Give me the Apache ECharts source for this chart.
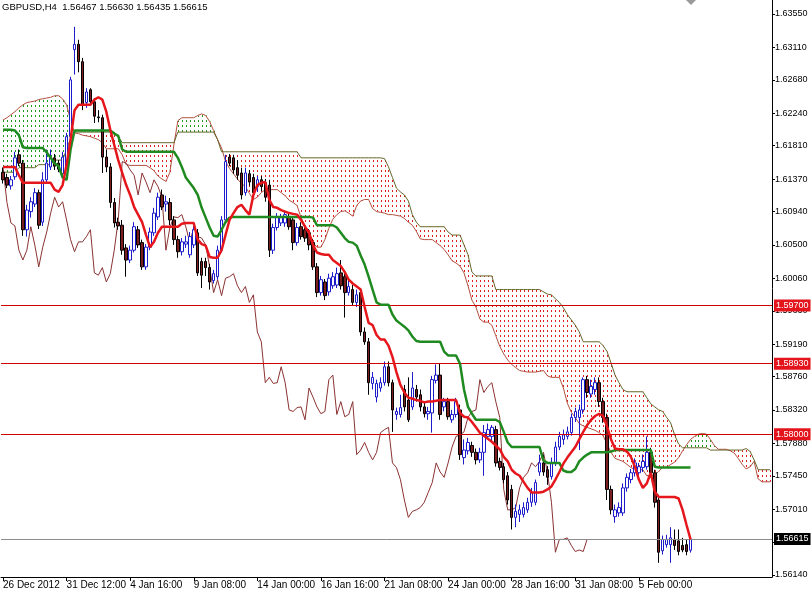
<!DOCTYPE html>
<html><head><meta charset="utf-8">
<script src="https://cdn.jsdelivr.net/npm/echarts@6/dist/echarts.min.js"></script>
<style>html,body{margin:0;padding:0;background:#fff}#c{width:812px;height:593px}</style>
</head><body><div id="c"></div>
<script>
const symbolName = 'GBPUSD,H4';
const dateLabels = ['26 Dec 2012','31 Dec 12:00','4 Jan 16:00','9 Jan 08:00','14 Jan 00:00','16 Jan 16:00','21 Jan 08:00','24 Jan 00:00','28 Jan 16:00','31 Jan 08:00','5 Feb 00:00'];
const priceTicks = [1.6355,1.6311,1.6268,1.6224,1.6181,1.6137,1.6094,1.6050,1.6006,1.5963,1.5919,1.5876,1.5832,1.5788,1.5745,1.5701,1.5657,1.5614];
const levels = [1.5970, 1.5893, 1.5800];
const bidPrice = 1.56615;
// [open, close, low, high]
const candles = [
[1.6146,1.6136,1.6131,1.6152],[1.6139,1.6129,1.6125,1.6144],[1.6128,1.6136,1.6123,1.6141],[1.6140,1.6165,1.6136,1.6173],[1.6169,1.6158,1.6154,1.6176],
[1.6158,1.6070,1.6062,1.6162],[1.6070,1.6096,1.6061,1.6103],[1.6094,1.6107,1.6086,1.6113],[1.6104,1.6119,1.6100,1.6125],[1.6119,1.6076,1.6071,1.6123],
[1.6080,1.6136,1.6075,1.6146],[1.6136,1.6158,1.6131,1.6176],[1.6153,1.6165,1.6149,1.6176],[1.6165,1.6154,1.6149,1.6170],[1.6158,1.6150,1.6146,1.6162],
[1.6144,1.6166,1.6139,1.6173],[1.6154,1.6193,1.6149,1.6198],[1.6193,1.6268,1.6189,1.6272],[1.6308,1.6315,1.6275,1.6338],[1.6315,1.6292,1.6278,1.6321],
[1.6292,1.6235,1.6228,1.6297],[1.6238,1.6252,1.6231,1.6257],[1.6255,1.6239,1.6234,1.6257],[1.6239,1.6220,1.6211,1.6244],[1.6219,1.6218,1.6212,1.6228],
[1.6218,1.6166,1.6145,1.6222],[1.6166,1.6153,1.6146,1.6176],[1.6153,1.6106,1.6099,1.6158],[1.6106,1.6079,1.6073,1.6112],[1.6080,1.6075,1.6070,1.6086],
[1.6076,1.6043,1.6037,1.6083],[1.6046,1.6030,1.6008,1.6051],[1.6030,1.6043,1.6026,1.6049],[1.6043,1.6074,1.6040,1.6080],[1.6070,1.6050,1.6046,1.6075],
[1.6053,1.6021,1.6017,1.6057],[1.6021,1.6047,1.6017,1.6051],[1.6047,1.6067,1.6043,1.6073],[1.6066,1.6092,1.6062,1.6099],[1.6087,1.6113,1.6083,1.6119],
[1.6116,1.6100,1.6096,1.6123],[1.6104,1.6107,1.6094,1.6115],[1.6106,1.6083,1.6076,1.6112],[1.6083,1.6057,1.6050,1.6088],[1.6057,1.6041,1.6033,1.6062],
[1.6041,1.6054,1.6036,1.6059],[1.6051,1.6054,1.6046,1.6062],[1.6037,1.6061,1.6033,1.6067],[1.6050,1.6070,1.6046,1.6075],[1.6066,1.6013,1.6009,1.6071],
[1.6028,1.6010,1.5993,1.6033],[1.6028,1.6020,1.6009,1.6033],[1.6020,1.6001,1.5991,1.6025],[1.6003,1.6012,1.5999,1.6017],[1.6008,1.6043,1.6004,1.6049],
[1.6043,1.6083,1.6040,1.6088],[1.6083,1.6160,1.6079,1.6169],[1.6166,1.6158,1.6154,1.6170],[1.6165,1.6149,1.6144,1.6169],[1.6152,1.6142,1.6136,1.6162],
[1.6145,1.6116,1.6110,1.6152],[1.6119,1.6145,1.6115,1.6152],[1.6144,1.6133,1.6128,1.6149],[1.6139,1.6119,1.6112,1.6144],[1.6127,1.6136,1.6120,1.6141],
[1.6136,1.6127,1.6121,1.6141],[1.6132,1.6113,1.6107,1.6137],[1.6129,1.6043,1.6034,1.6136],[1.6043,1.6073,1.6038,1.6078],[1.6073,1.6087,1.6069,1.6092],
[1.6079,1.6086,1.6075,1.6091],[1.6079,1.6090,1.6074,1.6094],[1.6087,1.6074,1.6070,1.6092],[1.6083,1.6053,1.6043,1.6088],[1.6053,1.6073,1.6049,1.6079],
[1.6074,1.6061,1.6057,1.6080],[1.6070,1.6059,1.6054,1.6075],[1.6066,1.6050,1.6043,1.6071],[1.6053,1.6021,1.6017,1.6058],[1.6021,1.5987,1.5981,1.6026],
[1.5987,1.6004,1.5983,1.6009],[1.6001,1.5983,1.5977,1.6005],[1.5988,1.6006,1.5983,1.6012],[1.5996,1.6008,1.5992,1.6014],[1.5997,1.6012,1.5993,1.6020],
[1.6013,1.5996,1.5991,1.6030],[1.6008,1.5987,1.5954,1.6012],[1.5987,1.5995,1.5983,1.6006],[1.5991,1.5974,1.5970,1.5997],[1.5974,1.5984,1.5968,1.5991],
[1.5987,1.5935,1.5930,1.5993],[1.5935,1.5922,1.5918,1.5941],[1.5922,1.5868,1.5852,1.5927],[1.5867,1.5875,1.5859,1.5882],[1.5849,1.5867,1.5842,1.5872],
[1.5861,1.5868,1.5856,1.5875],[1.5868,1.5889,1.5864,1.5896],[1.5889,1.5868,1.5863,1.5896],[1.5868,1.5832,1.5803,1.5872],[1.5826,1.5830,1.5819,1.5835],
[1.5826,1.5835,1.5822,1.5852],[1.5859,1.5836,1.5830,1.5865],[1.5845,1.5819,1.5816,1.5875],[1.5836,1.5861,1.5832,1.5882],[1.5859,1.5849,1.5843,1.5865],
[1.5852,1.5836,1.5830,1.5859],[1.5836,1.5827,1.5822,1.5842],[1.5827,1.5830,1.5819,1.5836],[1.5828,1.5872,1.5802,1.5877],[1.5871,1.5878,1.5867,1.5892],
[1.5878,1.5826,1.5819,1.5893],[1.5836,1.5843,1.5830,1.5848],[1.5843,1.5823,1.5819,1.5848],[1.5819,1.5826,1.5815,1.5832],[1.5826,1.5843,1.5822,1.5848],
[1.5832,1.5773,1.5766,1.5839],[1.5769,1.5779,1.5760,1.5793],[1.5778,1.5789,1.5773,1.5795],[1.5785,1.5776,1.5770,1.5790],[1.5776,1.5766,1.5760,1.5781],
[1.5766,1.5776,1.5762,1.5782],[1.5776,1.5802,1.5745,1.5812],[1.5797,1.5806,1.5793,1.5814],[1.5797,1.5809,1.5790,1.5812],[1.5806,1.5762,1.5757,1.5811],
[1.5764,1.5756,1.5752,1.5769],[1.5757,1.5740,1.5735,1.5762],[1.5745,1.5713,1.5707,1.5750],[1.5727,1.5690,1.5674,1.5733],[1.5690,1.5698,1.5677,1.5707],
[1.5694,1.5700,1.5684,1.5707],[1.5694,1.5703,1.5690,1.5710],[1.5700,1.5710,1.5696,1.5716],[1.5710,1.5723,1.5704,1.5729],[1.5710,1.5736,1.5706,1.5740],
[1.5750,1.5762,1.5745,1.5773],[1.5762,1.5750,1.5745,1.5773],[1.5753,1.5743,1.5733,1.5758],[1.5744,1.5762,1.5740,1.5769],[1.5762,1.5783,1.5758,1.5790],
[1.5783,1.5797,1.5779,1.5803],[1.5793,1.5799,1.5786,1.5806],[1.5797,1.5803,1.5793,1.5810],[1.5802,1.5822,1.5798,1.5827],[1.5822,1.5830,1.5816,1.5835],
[1.5822,1.5832,1.5779,1.5839],[1.5832,1.5872,1.5827,1.5875],[1.5872,1.5855,1.5848,1.5877],[1.5853,1.5863,1.5848,1.5872],[1.5859,1.5868,1.5852,1.5875],
[1.5868,1.5843,1.5836,1.5875],[1.5843,1.5822,1.5815,1.5848],[1.5822,1.5727,1.5713,1.5827],[1.5727,1.5700,1.5694,1.5732],[1.5691,1.5700,1.5683,1.5707],
[1.5696,1.5703,1.5691,1.5710],[1.5696,1.5729,1.5692,1.5735],[1.5729,1.5743,1.5724,1.5748],[1.5740,1.5749,1.5735,1.5754],[1.5749,1.5762,1.5744,1.5768],
[1.5749,1.5757,1.5744,1.5762],[1.5756,1.5764,1.5750,1.5773],[1.5757,1.5776,1.5753,1.5797],[1.5776,1.5749,1.5743,1.5782],[1.5749,1.5710,1.5703,1.5753],
[1.5713,1.5644,1.5630,1.5720],[1.5646,1.5661,1.5641,1.5666],[1.5654,1.5661,1.5650,1.5667],[1.5654,1.5663,1.5630,1.5677],[1.5661,1.5653,1.5647,1.5674],
[1.5659,1.5645,1.5640,1.5674],[1.5653,1.5647,1.5644,1.5663],[1.5654,1.5645,1.5640,1.5661],[1.56467,1.56615,1.56435,1.56630]
];
const tenkan = [
1.6153,1.6153,1.6153,1.6153,1.6142,1.6132,1.6132,1.6132,1.6132,1.6132,
1.6132,1.6132,1.6132,1.6123,1.6120,1.6129,1.6156,1.6189,1.6228,1.6235,
1.6235,1.6235,1.6235,1.6242,1.6245,1.6242,1.6226,1.6202,1.6182,1.6162,
1.6145,1.6129,1.6116,1.6100,1.6090,1.6080,1.6063,1.6047,1.6054,1.6066,
1.6074,1.6074,1.6074,1.6074,1.6074,1.6078,1.6079,1.6079,1.6079,1.6057,
1.6051,1.6049,1.6034,1.6033,1.6033,1.6043,1.6063,1.6083,1.6092,1.6100,
1.6103,1.6096,1.6090,1.6116,1.6129,1.6132,1.6133,1.6110,1.6100,1.6099,
1.6096,1.6094,1.6092,1.6091,1.6090,1.6083,1.6074,1.6066,1.6050,1.6040,
1.6038,1.6037,1.6037,1.6030,1.6026,1.6022,1.6014,1.6004,1.5999,1.5995,
1.5991,1.5968,1.5947,1.5944,1.5931,1.5925,1.5925,1.5917,1.5902,1.5882,
1.5865,1.5855,1.5848,1.5847,1.5845,1.5844,1.5842,1.5843,1.5843,1.5844,
1.5845,1.5845,1.5845,1.5845,1.5845,1.5828,1.5823,1.5822,1.5816,1.5809,
1.5802,1.5798,1.5794,1.5790,1.5785,1.5780,1.5770,1.5764,1.5753,1.5748,
1.5745,1.5737,1.5729,1.5723,1.5723,1.5723,1.5724,1.5727,1.5731,1.5740,
1.5750,1.5761,1.5769,1.5776,1.5783,1.5793,1.5803,1.5812,1.5819,1.5824,
1.5827,1.5824,1.5810,1.5793,1.5781,1.5780,1.5780,1.5777,1.5770,1.5757,
1.5740,1.5729,1.5735,1.5749,1.5724,1.5717,1.5717,1.5717,1.5717,1.5717,
1.5715,1.5700,1.5680,1.5661
];
const kijun = [
1.6202,1.6202,1.6202,1.6201,1.6195,1.6179,1.6178,1.6178,1.6178,1.6178,
1.6178,1.6172,1.6165,1.6158,1.6154,1.6139,1.6136,1.6176,1.6201,1.6201,
1.6201,1.6201,1.6201,1.6201,1.6201,1.6201,1.6201,1.6201,1.6197,1.6194,
1.6176,1.6173,1.6173,1.6173,1.6173,1.6173,1.6173,1.6173,1.6173,1.6173,
1.6173,1.6173,1.6173,1.6173,1.6165,1.6153,1.6139,1.6132,1.6125,1.6116,
1.6099,1.6086,1.6073,1.6062,1.6061,1.6070,1.6080,1.6086,1.6087,1.6087,
1.6087,1.6087,1.6087,1.6087,1.6087,1.6087,1.6087,1.6087,1.6087,1.6087,
1.6087,1.6087,1.6087,1.6087,1.6087,1.6087,1.6087,1.6087,1.6086,1.6076,
1.6076,1.6076,1.6076,1.6076,1.6073,1.6066,1.6059,1.6054,1.6053,1.6049,
1.6036,1.6024,1.6008,1.5991,1.5974,1.5971,1.5971,1.5971,1.5958,1.5950,
1.5946,1.5942,1.5937,1.5929,1.5923,1.5922,1.5922,1.5922,1.5922,1.5922,
1.5922,1.5909,1.5904,1.5904,1.5904,1.5893,1.5859,1.5836,1.5827,1.5819,
1.5819,1.5819,1.5819,1.5819,1.5819,1.5816,1.5803,1.5789,1.5783,1.5783,
1.5783,1.5783,1.5783,1.5783,1.5783,1.5783,1.5765,1.5762,1.5762,1.5762,
1.5762,1.5752,1.5750,1.5750,1.5754,1.5764,1.5769,1.5773,1.5776,1.5776,
1.5776,1.5776,1.5776,1.5777,1.5779,1.5779,1.5779,1.5779,1.5779,1.5779,
1.5779,1.5779,1.5779,1.5779,1.5757,1.5756,1.5756,1.5756,1.5756,1.5756,
1.5756,1.5756,1.5756,1.5756
];
const senkouA = [
1.6215,1.6218,1.6222,1.6226,1.6231,1.6235,1.6238,1.6239,1.6240,1.6242,
1.6243,1.6244,1.6245,1.6247,1.6247,1.6243,1.6235,1.6215,1.6198,1.6197,
1.6195,1.6194,1.6193,1.6191,1.6189,1.6185,1.6177,1.6177,1.6177,1.6177,
1.6169,1.6156,1.6155,1.6155,1.6155,1.6155,1.6155,1.6152,1.6148,1.6141,
1.6137,1.6134,1.6146,1.6182,1.6214,1.6218,1.6218,1.6218,1.6218,1.6221,
1.6223,1.6221,1.6213,1.6201,1.6189,1.6178,1.6160,1.6151,1.6144,1.6137,
1.6131,1.6127,1.6118,1.6110,1.6113,1.6119,1.6123,1.6123,1.6123,1.6123,
1.6119,1.6115,1.6109,1.6106,1.6102,1.6086,1.6075,1.6067,1.6053,1.6047,
1.6047,1.6057,1.6072,1.6084,1.6090,1.6094,1.6095,1.6092,1.6088,1.6102,
1.6108,1.6110,1.6110,1.6098,1.6094,1.6093,1.6092,1.6090,1.6090,1.6089,
1.6088,1.6085,1.6080,1.6076,1.6068,1.6058,1.6057,1.6057,1.6057,1.6053,
1.6049,1.6044,1.6037,1.6029,1.6026,1.6022,1.6013,1.5996,1.5977,1.5968,
1.5952,1.5948,1.5948,1.5944,1.5930,1.5916,1.5906,1.5898,1.5892,1.5888,
1.5884,1.5883,1.5882,1.5882,1.5882,1.5883,1.5884,1.5877,1.5875,1.5875,
1.5875,1.5861,1.5841,1.5829,1.5822,1.5814,1.5811,1.5809,1.5807,1.5805,
1.5802,1.5798,1.5787,1.5776,1.5768,1.5766,1.5764,1.5760,1.5756,1.5753,
1.5753,1.5753,1.5745,1.5745,1.5746,1.5751,1.5756,1.5756,1.5760,1.5763,
1.5769,1.5778,1.5786,1.5793,1.5797,1.5800,1.5801,1.5800,1.5793,1.5785,
1.5780,1.5780,1.5780,1.5778,1.5775,1.5768,1.5760,1.5754,1.5757,1.5764,
1.5741,1.5737,1.5737,1.5737
];
const senkouB = [
1.6146,1.6146,1.6146,1.6146,1.6152,1.6152,1.6152,1.6152,1.6152,1.6156,
1.6156,1.6156,1.6156,1.6162,1.6162,1.6162,1.6176,1.6191,1.6199,1.6199,
1.6199,1.6199,1.6199,1.6199,1.6199,1.6199,1.6199,1.6199,1.6199,1.6193,
1.6185,1.6185,1.6185,1.6185,1.6185,1.6185,1.6185,1.6185,1.6185,1.6185,
1.6185,1.6185,1.6185,1.6185,1.6199,1.6199,1.6199,1.6199,1.6199,1.6199,
1.6199,1.6199,1.6199,1.6199,1.6189,1.6173,1.6173,1.6173,1.6173,1.6173,
1.6173,1.6173,1.6173,1.6173,1.6173,1.6173,1.6173,1.6173,1.6173,1.6173,
1.6173,1.6173,1.6173,1.6173,1.6173,1.6165,1.6165,1.6165,1.6165,1.6165,
1.6165,1.6165,1.6165,1.6165,1.6165,1.6165,1.6165,1.6165,1.6165,1.6165,
1.6165,1.6165,1.6165,1.6165,1.6165,1.6165,1.6164,1.6153,1.6139,1.6125,
1.6120,1.6116,1.6108,1.6090,1.6080,1.6074,1.6074,1.6074,1.6074,1.6074,
1.6074,1.6074,1.6067,1.6063,1.6063,1.6063,1.6050,1.6037,1.6014,1.6009,
1.6009,1.6009,1.6009,1.6009,1.5991,1.5991,1.5991,1.5991,1.5991,1.5991,
1.5991,1.5991,1.5991,1.5991,1.5991,1.5991,1.5988,1.5985,1.5984,1.5979,
1.5974,1.5967,1.5958,1.5951,1.5944,1.5935,1.5922,1.5922,1.5922,1.5922,
1.5922,1.5917,1.5909,1.5894,1.5878,1.5868,1.5859,1.5856,1.5856,1.5856,
1.5856,1.5856,1.5848,1.5840,1.5836,1.5832,1.5830,1.5822,1.5815,1.5799,
1.5787,1.5782,1.5782,1.5782,1.5782,1.5782,1.5782,1.5782,1.5779,1.5779,
1.5779,1.5779,1.5779,1.5779,1.5779,1.5779,1.5779,1.5781,1.5777,1.5766,
1.5753,1.5753,1.5753,1.5753
];

// chart frame settings
const slotCount = senkouA.length;   // bars incl. the 26-bar cloud projection
const labelStep = 16;
const chikouShift = 26;
const yMin = 1.56113, yMax = 1.63735;

const categories = Array.from({length: slotCount}, (_, i) =>
  (i % labelStep === 0 && dateLabels[i / labelStep]) ? dateLabels[i / labelStep] : '');
const chikou = candles.slice(chikouShift).map(c => c[1]);
const last = candles[candles.length - 1];
const titleText = symbolName + '  ' + last[0].toFixed(5) + ' ' + last[3].toFixed(5) + ' ' + last[2].toFixed(5) + ' ' + last[1].toFixed(5);

const FONT = 'Liberation Sans';
const showLbl = (idx, val) => val !== '';

function levelLine(v, bg, lineColor) {
  return {
    yAxis: v,
    lineStyle: {color: lineColor, width: 1, type: 'solid', opacity: 1},
    label: {show: true, position: 'end', distance: 2, formatter: () => v.toFixed(5),
      color: '#fff', backgroundColor: bg, padding: [2, 2, 1, 2], fontSize: 9, fontFamily: FONT}
  };
}

const chart = echarts.init(document.getElementById('c'), null, {renderer: 'canvas'});
chart.setOption({
  animation: false,
  backgroundColor: '#ffffff',
  title: {text: titleText, left: 2, top: 2, padding: 0,
    textStyle: {fontSize: 9.5, fontWeight: 'normal', color: '#000', fontFamily: FONT}},
  grid: {left: -4, right: 40, top: 0, bottom: 16, containLabel: false},
  xAxis: {
    type: 'category', data: categories, boundaryGap: true,
    axisLine: {show: true, lineStyle: {color: '#000', width: 1}},
    axisTick: {show: true, alignWithLabel: true, interval: showLbl, length: 4, lineStyle: {color: '#000'}},
    axisLabel: {interval: showLbl, align: 'left', margin: 3, color: '#000', fontSize: 10, fontFamily: FONT},
    splitLine: {show: false}
  },
  yAxis: {
    type: 'value', position: 'right', min: yMin, max: yMax, scale: true,
    axisLine: {show: true, lineStyle: {color: '#000', width: 1}},
    axisTick: {show: true, length: 3, customValues: priceTicks, lineStyle: {color: '#000'}},
    axisLabel: {customValues: priceTicks, formatter: v => v.toFixed(5), color: '#000', fontSize: 9, fontFamily: FONT, margin: 3},
    splitLine: {show: false}
  },
  graphic: [{type: 'polygon', shape: {points: [[685, -1], [697, -1], [691, 5]]}, style: {fill: '#9a9a9a'}, z: 100}],
  series: [
    {
      name: 'Kumo', type: 'custom', z: 1, silent: true,
      data: senkouA.map((a, i) => [i, a, senkouB[i]]),
      encode: {x: 0, y: [1, 2]},
      renderItem: (params, api) => {
        const i = api.value(0), a = api.value(1), b = api.value(2);
        const pa = api.coord([i, a]), pb = api.coord([i, b]);
        const x = Math.round(pa[0]) + 0.5;
        const top = Math.min(pa[1], pb[1]), bot = Math.max(pa[1], pb[1]);
        return {type: 'line', shape: {x1: x, y1: top, x2: x, y2: bot},
          style: {stroke: a > b ? '#1f9a1f' : '#e02020', lineWidth: 1, lineDash: [2, 3], lineDashOffset: top % 5}};
      }
    },
    {name: 'Senkou A', type: 'line', z: 2, data: senkouA, symbol: 'none', silent: true,
      lineStyle: {color: '#b2503f', width: 1}},
    {name: 'Senkou B', type: 'line', z: 2, data: senkouB, symbol: 'none', silent: true,
      lineStyle: {color: '#66662a', width: 1}},
    {name: 'Chikou', type: 'line', z: 3, data: chikou, symbol: 'none', silent: true,
      lineStyle: {color: '#8b3232', width: 1}},
    {
      name: symbolName, type: 'candlestick', z: 4, data: candles, barWidth: 3,
      itemStyle: {color: '#ffffff', color0: '#7a1e1e', borderColor: '#1c1ccc', borderColor0: '#000000', borderWidth: 1}
    },
    {name: 'Kijun', type: 'line', z: 5, data: kijun, symbol: 'none', silent: true,
      lineStyle: {color: '#1f8a1f', width: 2.5}},
    {name: 'Tenkan', type: 'line', z: 6, data: tenkan, symbol: 'none', silent: true,
      lineStyle: {color: '#e5161c', width: 2.5}},
    {
      name: 'Levels', type: 'line', z: 7, data: [], silent: true, color: '#d00000',
      markLine: {
        symbol: 'none', silent: true, animation: false, precision: 5,
        lineStyle: {color: '#d00000', width: 1, type: 'solid', opacity: 1},
        data: [
          levelLine(levels[0], '#e3141b', '#d00000'),
          levelLine(levels[1], '#e3141b', '#d00000'),
          levelLine(levels[2], '#e3141b', '#d00000'),
          levelLine(bidPrice, '#000000', '#8c8c8c')
        ]
      }
    }
  ]
});
</script>
</body></html>
